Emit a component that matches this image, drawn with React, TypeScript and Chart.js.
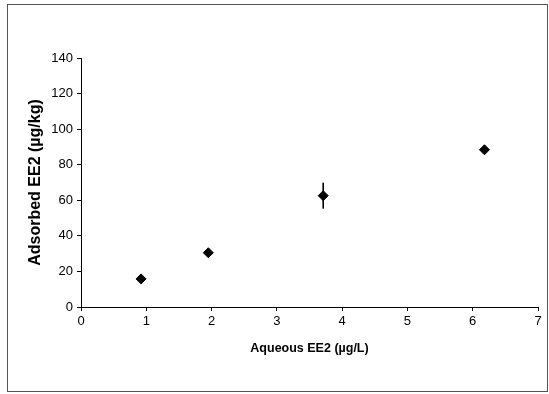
import React, { useEffect, useRef } from "react";
import { Chart, registerables } from "chart.js";

Chart.register(...registerables);

const aqueousEE2 = [0.92, 1.95, 3.71, 6.18];
const adsorbedEE2 = [15.8, 30.5, 62.6, 88.4];
const errorEE2 = [0, 0, 7.3, 0];
const xTitle = "Aqueous EE2 (µg/L)";
const yTitle = "Adsorbed EE2 (µg/kg)";

const W = 549;
const H = 394;

const framePlugin = {
  id: "frame",
  beforeDraw(chart: any) {
    const ctx = chart.ctx;
    ctx.save();
    ctx.fillStyle = "#ffffff";
    ctx.fillRect(0, 0, chart.width, chart.height);
    ctx.strokeStyle = "#555555";
    ctx.lineWidth = 1;
    ctx.strokeRect(7.5, 4.5, 540, 387);
    ctx.restore();
  },
};

const errorBarPlugin = {
  id: "errorBars",
  afterDatasetsDraw(chart: any) {
    const ctx = chart.ctx;
    const xs = chart.scales.x;
    const ys = chart.scales.y;
    ctx.save();
    ctx.strokeStyle = "#000000";
    ctx.lineWidth = 1.6;
    aqueousEE2.forEach((xv, i) => {
      const e = errorEE2[i];
      if (!e) return;
      const px = xs.getPixelForValue(xv);
      const top = ys.getPixelForValue(adsorbedEE2[i] + e);
      const bot = ys.getPixelForValue(adsorbedEE2[i] - e);
      ctx.beginPath();
      ctx.moveTo(px, top);
      ctx.lineTo(px, bot);
      ctx.stroke();
    });
    ctx.restore();
  },
};

export default function App() {
  const ref = useRef<HTMLCanvasElement | null>(null);

  useEffect(() => {
    if (!ref.current) return;
    const tickFont = { family: "'Liberation Sans', Arial, sans-serif", size: 13 };
    const chart = new Chart(ref.current, {
      type: "scatter",
      data: {
        datasets: [
          {
            data: aqueousEE2.map((x, i) => ({ x, y: adsorbedEE2[i] })),
            pointStyle: "rectRot",
            pointRadius: 5,
            backgroundColor: "#000000",
            borderColor: "#000000",
            borderWidth: 1,
          },
        ],
      },
      options: {
        responsive: false,
        animation: false,
        layout: { padding: { left: 0, top: 58, right: 11, bottom: 0 } },
        plugins: {
          legend: { display: false },
          tooltip: { enabled: false },
        },
        scales: {
          x: {
            type: "linear",
            min: 0,
            max: 7,
            afterFit(scale: any) {
              scale.height = 87;
            },
            ticks: {
              stepSize: 1,
              color: "#000000",
              font: tickFont,
              padding: 3,
            },
            grid: {
              display: true,
              drawOnChartArea: false,
              drawTicks: true,
              tickLength: 4,
              color: "#000000",
            },
            border: { display: true, color: "#000000", width: 1 },
            title: {
              display: true,
              text: xTitle,
              color: "#000000",
              font: { family: "'Liberation Sans', Arial, sans-serif", size: 12.5, weight: "bold" },
              padding: { top: 0, bottom: 38 },
            },
          },
          y: {
            type: "linear",
            min: 0,
            max: 140,
            afterFit(scale: any) {
              scale.width = 81;
            },
            ticks: {
              stepSize: 20,
              color: "#000000",
              font: tickFont,
              padding: 4,
            },
            grid: {
              display: true,
              drawOnChartArea: false,
              drawTicks: true,
              tickLength: 4,
              color: "#000000",
            },
            border: { display: true, color: "#000000", width: 1 },
            title: {
              display: true,
              text: yTitle,
              color: "#000000",
              font: { family: "'Liberation Sans', Arial, sans-serif", size: 16, weight: "bold" },
              padding: { top: 26, bottom: 0 },
            },
          },
        },
      },
      plugins: [framePlugin, errorBarPlugin],
    } as any);
    return () => chart.destroy();
  }, []);

  return (
    <div style={{ position: "fixed", left: 0, top: 0, width: W, height: H, background: "#fff" }}>
      <canvas ref={ref} width={W} height={H} style={{ display: "block", width: W, height: H }} />
    </div>
  );
}
